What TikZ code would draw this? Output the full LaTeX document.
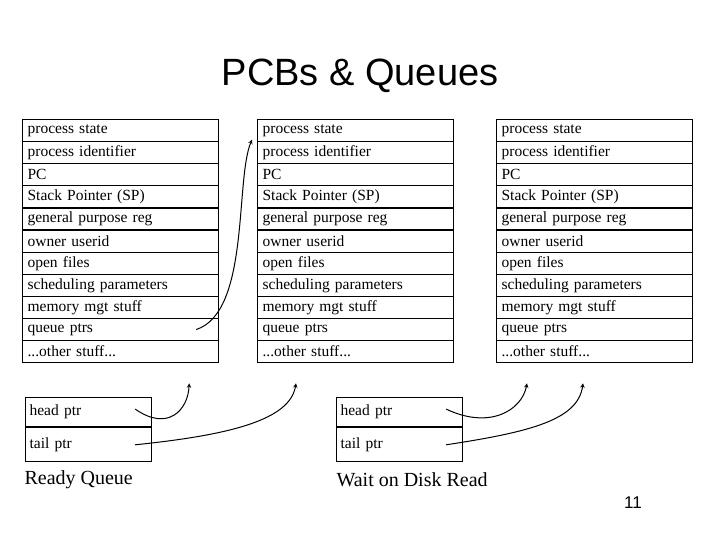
\documentclass[tikz,border=0pt]{standalone}
\usepackage{fontspec}
\setmainfont{Liberation Serif}
\newfontfamily\sansf{Liberation Sans}
\usepackage{tikz}
\usetikzlibrary{arrows,positioning}

\begin{document}
\begin{tikzpicture}[x=1pt,y=-1pt,
    cell/.style={draw,line width=1.2pt,minimum width=196pt,minimum height=22.1pt,
      inner sep=0pt,text width=186pt,align=left,anchor=north west,font=\fontsize{15.5}{15.5}\selectfont},
    qcell/.style={cell,minimum width=126pt,text width=118pt,minimum height=31pt},
    arr/.style={-stealth,line width=1pt}]
  \useasboundingbox (0,0) rectangle (720,540);

  \node[font=\sansf\fontsize{38}{38}\selectfont] (title) at (360,76) {PCBs \& Queues};

  % the three PCBs
  \foreach \p/\x in {1/22,2/257,3/496}{
    \foreach \t [count=\n] in {process state,process identifier,PC,Stack Pointer (SP),
        general purpose reg,owner userid,open files,scheduling parameters,
        memory mgt stuff,queue ptrs,{{...}other stuff{...}}}
      \node[cell] (p\p-\n) at (\x,{119+22.1*(\n-1)}) {\t};
  }

  % queues
  \node[qcell,minimum height=29pt] (rh) at (25,397) {head ptr};
  \node[qcell,minimum height=34pt,below=0pt of rh.south west,anchor=north west] (rt) {tail ptr};
  \node[qcell,minimum height=29pt] (wh) at (336,397) {head ptr};
  \node[qcell,minimum height=34pt,below=0pt of wh.south west,anchor=north west] (wt) {tail ptr};

  \node[anchor=west,font=\fontsize{20}{20}\selectfont] (rq) at (21,480) {Ready Queue};
  \node[anchor=west,font=\fontsize{20}{20}\selectfont] (wq) at (333,480) {Wait on Disk Read};
  \node[font=\sansf\fontsize{17}{17}\selectfont] (pg) at (633,503) {11};

  \coordinate (q1) at ([xshift=-23pt]p1-10.east);
  \coordinate (t2) at ([xshift=-5pt,yshift=-9pt]p2-1.west);
  \coordinate (a1) at ([xshift=-30pt,yshift=-20pt]p1-11.south east);
  \coordinate (a2) at ([xshift=39pt,yshift=-20pt]p2-11.south west);
  \coordinate (a3) at ([xshift=31pt,yshift=-20pt]p3-11.south west);
  \coordinate (a4) at ([xshift=87pt,yshift=-20pt]p3-11.south west);
  \coordinate (h1) at ([xshift=-17pt,yshift=3pt]rh.east);
  \coordinate (h2) at ([xshift=-17pt]rt.east);
  \coordinate (h3) at ([xshift=-17pt,yshift=3pt]wh.east);
  \coordinate (h4) at ([xshift=-17pt]wt.east);

  \draw[arr] (q1) .. controls (250,312) and (235,180) .. (t2);
  \draw[arr] (h1) .. controls (168,432) and (188,410) .. (a1);
  \draw[arr] (h2) .. controls (230,435) and (290,420) .. (a2);
  \draw[arr] (h3) .. controls (490,430) and (522,410) .. (a3);
  \draw[arr] (h4) .. controls (530,432) and (578,420) .. (a4);
\end{tikzpicture}
\end{document}
